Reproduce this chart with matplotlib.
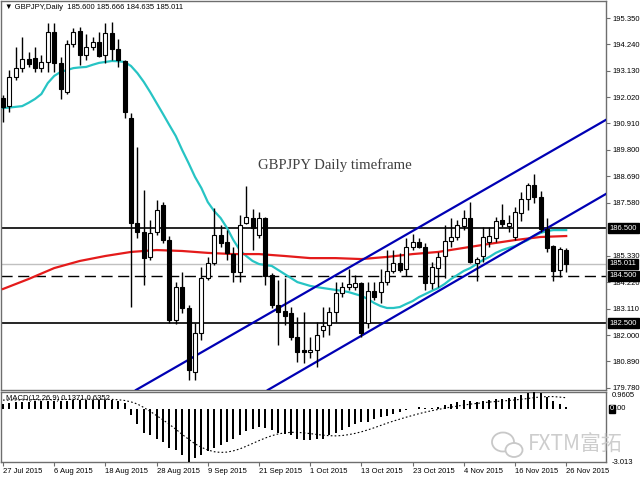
import matplotlib
matplotlib.use("Agg")
import matplotlib.pyplot as plt
from matplotlib.patches import Rectangle, Ellipse

plt.rcParams["font.family"] = ["Liberation Sans", "DejaVu Sans"]

# ---- data ----
dates = ["27 Jul 2015", "6 Aug 2015", "18 Aug 2015", "28 Aug 2015", "9 Sep 2015",
         "21 Sep 2015", "1 Oct 2015", "13 Oct 2015", "23 Oct 2015", "4 Nov 2015",
         "16 Nov 2015", "26 Nov 2015"]
date_bars = [0, 8, 16, 24, 32, 40, 48, 56, 64, 72, 80, 88]

opens = [191.98, 191.64, 192.87, 193.24, 193.62, 193.67, 193.24, 193.50, 194.76, 193.46,
         192.23, 194.25, 194.80, 193.79, 194.13, 194.34, 193.79, 194.72, 194.04, 193.54,
         191.14, 186.72, 186.34, 185.29, 186.34, 187.48, 186.00, 182.63, 184.02, 183.14,
         180.45, 182.09, 184.40, 185.04, 186.21, 185.92, 185.41, 184.66, 186.72, 186.93,
         186.21, 186.93, 184.53, 183.27, 183.01, 182.93, 181.92, 181.37, 181.29, 181.37,
         182.21, 182.42, 182.97, 183.77, 184.02, 184.02, 184.19, 182.51, 183.86, 183.81,
         184.24, 184.70, 185.04, 184.78, 185.71, 185.92, 185.71, 184.19, 184.82, 185.33,
         185.96, 186.13, 186.59, 186.93, 185.04, 185.33, 185.92, 186.09, 186.85, 186.59,
         186.13, 187.14, 187.73, 188.32, 187.81, 186.47, 185.75, 184.74, 185.600]
highs = [192.11, 193.16, 194.13, 194.55, 193.92, 194.13, 193.79, 195.14, 195.14, 193.71,
         194.42, 194.93, 194.97, 194.68, 194.55, 194.76, 195.14, 195.18, 194.47, 193.58,
         191.35, 189.92, 188.11, 186.85, 187.69, 187.60, 186.17, 184.24, 184.66, 183.27,
         182.51, 184.87, 185.29, 187.35, 186.64, 186.43, 185.71, 187.06, 188.28, 187.31,
         187.18, 186.97, 184.61, 184.32, 184.40, 183.18, 182.76, 182.97, 181.92, 182.55,
         183.18, 183.18, 184.24, 184.24, 184.78, 184.53, 184.24, 184.24, 184.24, 184.78,
         185.58, 185.58, 185.46, 186.09, 186.26, 186.09, 185.88, 185.08, 185.50, 186.64,
         186.93, 186.85, 187.27, 187.60, 185.29, 186.55, 186.55, 186.97, 187.52, 187.06,
         187.39, 188.02, 188.40, 188.78, 188.07, 186.93, 185.79, 185.71, 185.666]
lows = [190.97, 191.39, 192.74, 193.08, 193.29, 193.08, 193.08, 193.08, 193.08, 191.94,
        192.15, 194.13, 193.37, 193.58, 194.00, 193.71, 193.46, 193.58, 193.29, 191.14,
        183.18, 186.09, 184.11, 185.16, 186.21, 185.88, 182.51, 182.47, 182.93, 180.11,
        180.11, 181.79, 184.32, 184.95, 185.71, 185.16, 184.24, 184.24, 186.68, 185.58,
        186.09, 184.11, 183.14, 181.58, 182.42, 181.79, 180.87, 180.82, 181.03, 180.66,
        181.92, 182.00, 182.55, 183.60, 183.90, 183.90, 181.92, 182.30, 183.48, 183.35,
        184.11, 184.61, 184.66, 184.49, 185.58, 185.67, 183.90, 183.94, 184.02, 184.40,
        185.71, 186.00, 186.43, 185.04, 184.28, 185.08, 185.71, 185.92, 186.55, 186.34,
        186.00, 186.80, 187.27, 187.56, 186.34, 185.50, 184.28, 184.45, 184.635]
closes = [191.60, 192.87, 193.24, 193.62, 193.41, 193.24, 193.50, 194.76, 193.46, 192.36,
          194.25, 194.76, 193.79, 194.13, 194.34, 193.75, 194.72, 194.04, 193.58, 191.39,
          186.72, 186.34, 185.25, 186.30, 187.27, 186.00, 182.63, 184.02, 183.14, 180.53,
          182.09, 184.40, 185.04, 186.21, 185.88, 185.46, 184.66, 186.64, 186.97, 186.51,
          186.93, 184.49, 183.27, 182.97, 182.80, 181.92, 181.29, 181.29, 181.37, 182.00,
          182.38, 182.97, 183.77, 184.02, 184.15, 184.19, 182.09, 183.86, 183.60, 184.24,
          184.70, 185.04, 184.74, 185.71, 185.92, 185.71, 184.19, 184.87, 185.29, 185.96,
          186.13, 186.64, 186.93, 185.08, 185.20, 186.13, 186.17, 186.80, 186.68, 186.72,
          187.18, 187.73, 188.32, 187.81, 186.47, 185.67, 184.70, 185.62, 185.011]

# fast moving average (cyan), one value per bar
ma_fast = [191.56, 191.58, 191.61, 191.64, 191.78, 191.94, 192.15, 192.61, 192.91, 193.08,
           193.16, 193.24, 193.27, 193.29, 193.38, 193.46, 193.50, 193.54, 193.53, 193.50,
           193.33, 193.03, 192.66, 192.23, 191.77, 191.31, 190.84, 190.38, 189.79, 189.24,
           188.66, 188.19, 187.60, 187.22, 186.93, 186.51, 186.00, 185.58, 185.33, 185.12,
           184.99, 184.95, 184.91, 184.74, 184.57, 184.40, 184.23, 184.15, 184.07, 184.02,
           183.98, 183.94, 183.90, 183.86, 183.81, 183.73, 183.65, 183.52, 183.35, 183.22,
           183.14, 183.14, 183.18, 183.31, 183.43, 183.60, 183.73, 183.86, 183.98, 184.15,
           184.36, 184.53, 184.70, 184.82, 184.99, 185.16, 185.29, 185.46, 185.58, 185.67,
           185.75, 185.88, 186.00, 186.17, 186.30, 186.38, 186.42, 186.42, 186.42]
# slow moving average (red), read every 4 bars
ma_slow_bars = [0, 4, 8, 12, 16, 20, 24, 28, 32, 36, 40, 44, 48, 52, 56, 60, 64, 68, 72, 76, 80, 84, 88]
ma_slow = [183.94, 184.36, 184.82, 185.12, 185.33, 185.50, 185.58, 185.54, 185.46, 185.41,
           185.41, 185.33, 185.24, 185.24, 185.20, 185.29, 185.41, 185.50, 185.67, 185.84,
           186.00, 186.13, 186.17]

# MACD(12,26,9): main line (histogram) and signal (dotted)
macd_main = [0.30, 0.33, 0.37, 0.40, 0.42, 0.43, 0.43, 0.46, 0.47, 0.44,
             0.46, 0.49, 0.50, 0.50, 0.50, 0.49, 0.51, 0.50, 0.47, 0.32,
             -0.37, -0.88, -1.34, -1.50, -1.68, -1.85, -2.22, -2.36, -2.64, -3.00,
             -2.81, -2.64, -2.41, -2.22, -2.02, -1.85, -1.68, -1.50, -1.28, -1.14,
             -1.05, -1.11, -1.22, -1.34, -1.42, -1.50, -1.68, -1.79, -1.79, -1.73,
             -1.68, -1.50, -1.36, -1.22, -1.05, -0.86, -0.77, -0.73, -0.60, -0.48,
             -0.40, -0.31, -0.18, -0.08, 0.02, 0.10, 0.08, 0.08, 0.12, 0.20,
             0.30, 0.40, 0.50, 0.45, 0.42, 0.45, 0.48, 0.55, 0.58, 0.60,
             0.68, 0.78, 0.90, 0.96, 0.88, 0.70, 0.45, 0.30, 0.1371]
macd_signal = [0.50, 0.50, 0.51, 0.51, 0.52, 0.52, 0.52, 0.53, 0.53, 0.53,
               0.54, 0.54, 0.54, 0.55, 0.55, 0.55, 0.55, 0.54, 0.52, 0.48,
               0.40, 0.28, 0.08, -0.14, -0.38, -0.62, -0.88, -1.15, -1.45, -1.72,
               -1.98, -2.18, -2.33, -2.43, -2.47, -2.45, -2.38, -2.27, -2.12, -1.96,
               -1.80, -1.65, -1.52, -1.42, -1.36, -1.33, -1.33, -1.36, -1.40, -1.45,
               -1.49, -1.52, -1.53, -1.51, -1.46, -1.39, -1.30, -1.19, -1.07, -0.94,
               -0.81, -0.69, -0.58, -0.47, -0.37, -0.27, -0.18, -0.10, -0.03, 0.04,
               0.10, 0.16, 0.22, 0.27, 0.31, 0.35, 0.39, 0.42, 0.45, 0.48,
               0.51, 0.55, 0.59, 0.64, 0.68, 0.70, 0.70, 0.67, 0.6352]

# horizontal levels and channel trendlines (bar, price)
level_solid = [186.5, 182.5]
level_dashed = 184.5
bid = 185.011
channel_upper = [(20.8, 179.69), (94.2, 191.06)]
channel_lower = [(41.4, 179.69), (94.2, 187.94)]

price_ticks = [195.35, 194.24, 193.13, 192.02, 190.91, 189.80, 188.69, 187.58,
               185.33, 184.22, 183.11, 182.00, 180.89, 179.78]
price_tick_labels = ["195.350", "194.240", "193.130", "192.020", "190.910", "189.800",
                     "188.690", "187.580", "185.330", "184.220", "183.110", "182.000",
                     "180.890", "179.780"]
boxed_prices = [186.5, 185.011, 184.5, 182.5]
boxed_labels = ["186.500", "185.011", "184.500", "182.500"]

# ---- layout (pixel boxes in a 640x480 canvas) ----
W, H = 640, 480
FS = 5.5

def px_box(x0, y0, x1, y1):
    return [x0 / W, 1 - y1 / H, (x1 - x0) / W, (y1 - y0) / H]

fig = plt.figure(figsize=(6.4, 4.8), dpi=100)
ax = fig.add_axes(px_box(1, 1, 606, 390))
ax2 = fig.add_axes(px_box(1, 392, 606, 462), sharex=ax)

ax.set_xlim(-0.31, 94.22)
ax.set_ylim(179.687, 196.066)
ax2.set_ylim(-3.013, 0.9605)

for a in (ax, ax2):
    for s in a.spines.values():
        s.set_color("#6e6e6e")
        s.set_linewidth(1)

# ---- candles ----
n = len(closes)
bars = list(range(n))
ax.vlines(bars, lows, highs, color="black", lw=1, zorder=4)
for i in bars:
    o, c = opens[i], closes[i]
    lo, hi = min(o, c), max(o, c)
    fc = "white" if c >= o else "black"
    if hi - lo < 0.03:
        ax.hlines(o, i - 0.32, i + 0.32, color="black", lw=1, zorder=5)
    else:
        ax.add_patch(Rectangle((i - 0.32, lo), 0.64, hi - lo, facecolor=fc,
                               edgecolor="black", lw=0.8, zorder=5))

# moving averages
ax.plot(bars, ma_fast, color="#27c4c4", lw=1.6, zorder=3)
ax.plot(ma_slow_bars, ma_slow, color="#e41b1b", lw=1.6, zorder=3)

# levels
for lv in level_solid:
    ax.axhline(lv, color="black", lw=1.2, zorder=2)
ax.axhline(level_dashed, color="black", lw=1, ls=(0, (8, 4)), zorder=2)
ax.axhline(bid, color="#c0c0c0", lw=1, zorder=1)

# channel
for p1, p2 in (channel_upper, channel_lower):
    ax.axline(p1, p2, color="#0000b4", lw=1.6, zorder=3)

# texts
ax.text(0.006, 0.993, "\u25bc GBPJPY,Daily  185.600 185.666 184.635 185.011",
        transform=ax.transAxes, fontsize=FS, va="top", ha="left", color="black")
ax.text(39.8, 189.16, "GBPJPY Daily timeframe", family="Liberation Serif",
        fontsize=10.6, color="#404040", va="center", ha="left")

# right price scale
ax.yaxis.tick_right()
ax.set_yticks(price_ticks)
ax.set_yticklabels(price_tick_labels)
ax.tick_params(axis="y", direction="out", length=3, width=0.8, color="#6e6e6e",
               labelsize=FS, pad=2)
ax.tick_params(axis="x", bottom=False, labelbottom=False)
ytr = ax.get_yaxis_transform()
for v, lab in zip(boxed_prices, boxed_labels):
    ax.text(1.006, v, lab, transform=ytr, fontsize=FS, color="white", va="center",
            ha="left", zorder=10, clip_on=False,
            bbox=dict(boxstyle="square,pad=0.2", fc="black", ec="black"))

# ---- MACD panel ----
ax2.bar(bars, macd_main, width=0.32, color="black", zorder=3)
ax2.plot(bars, macd_signal, color="black", lw=0.8, ls=(0, (1.5, 2)), zorder=4)
ax2.text(0.008, 0.95, "MACD(12,26,9) 0.1371 0.6352", transform=ax2.transAxes,
         fontsize=FS, va="top", ha="left", color="black", zorder=5)
ax2.set_yticks([])
ytr2 = ax2.get_yaxis_transform()
ax2.text(1.009, 0.9605, "0.9605", transform=ytr2, fontsize=FS, va="top", ha="left",
         clip_on=False)
ax2.text(1.009, -3.013, "-3.013", transform=ytr2, fontsize=FS, va="center", ha="left",
         clip_on=False)
ax2.text(1.006, 0.0, "0", transform=ytr2, fontsize=FS, va="center", ha="left",
         color="white", clip_on=False, zorder=10,
         bbox=dict(boxstyle="square,pad=0.12", fc="black", ec="black"))
ax2.text(1.016, 0.0, ".00", transform=ytr2, fontsize=FS, va="center", ha="left",
         clip_on=False)

ax2.set_xticks(date_bars)
ax2.set_xticklabels(dates)
ax2.tick_params(axis="x", direction="out", length=3, width=0.8, color="#6e6e6e",
                labelsize=FS, pad=1.5)
for lab in ax2.get_xticklabels():
    lab.set_horizontalalignment("left")

# watermark
fig.text(528 / W, 1 - 445 / H, "FXTM\u5bcc\u62d3", family=["Noto Sans CJK SC", "DejaVu Sans"],
         fontsize=15, color="#c8c8c8", va="center", ha="left", alpha=0.9)
fig.add_artist(Ellipse((503, H - 442), 22, 19, transform=None, fill=False,
                       ec="#c8c8c8", lw=1.3))
fig.add_artist(Ellipse((514, H - 450), 17, 14, transform=None, fc="white",
                       ec="#c8c8c8", lw=1.3))

fig.savefig("out.png", dpi=100)
